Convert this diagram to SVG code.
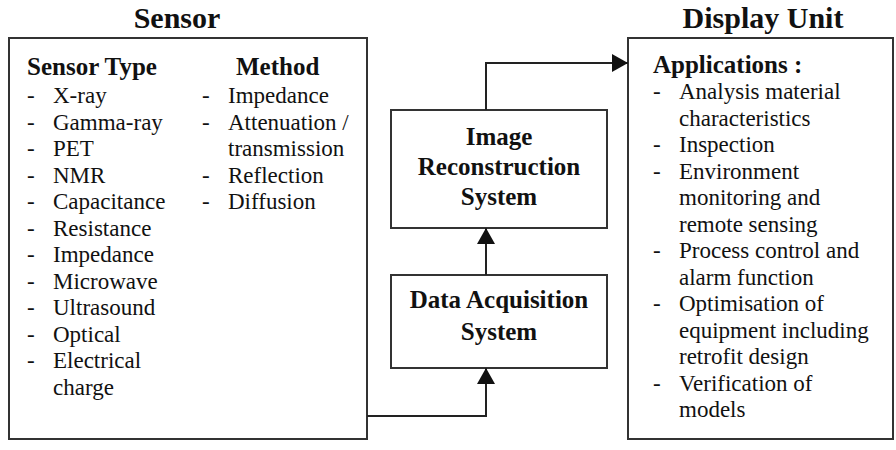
<svg xmlns="http://www.w3.org/2000/svg" width="896" height="450" viewBox="0 0 896 450">
<style>
.box{fill:#fff;stroke:#333;stroke-width:2}
.ttl{font-family:"Liberation Serif",serif;font-weight:bold;font-size:30px;fill:#111}
.hd{font-family:"Liberation Serif",serif;font-weight:bold;font-size:25px;fill:#111}
.tx{font-family:"Liberation Serif",serif;font-size:23px;fill:#111}
.cn{fill:none;stroke:#222;stroke-width:2}
</style>
<defs>
<marker id="ah" viewBox="0 0 16 18" refX="16" refY="9" markerWidth="16" markerHeight="18" markerUnits="userSpaceOnUse" orient="auto">
<path d="M0,0 L16,9 L0,18 Z" fill="#111"/>
</marker>
</defs>
<rect width="896" height="450" fill="#fff"/>
<g id="sensor">
<text class="ttl" x="177" y="27.5" text-anchor="middle">Sensor</text>
<rect class="box" x="9" y="38" width="358" height="401"/>
<text class="hd" x="27" y="75">Sensor Type</text>
<g class="tx">
<text x="27" y="103">-</text><text x="53" y="103">X-ray</text>
<text x="27" y="129.5">-</text><text x="53" y="129.5">Gamma-ray</text>
<text x="27" y="156">-</text><text x="53" y="156">PET</text>
<text x="27" y="182.5">-</text><text x="53" y="182.5">NMR</text>
<text x="27" y="209">-</text><text x="53" y="209">Capacitance</text>
<text x="27" y="235.5">-</text><text x="53" y="235.5">Resistance</text>
<text x="27" y="262">-</text><text x="53" y="262">Impedance</text>
<text x="27" y="288.5">-</text><text x="53" y="288.5">Microwave</text>
<text x="27" y="315">-</text><text x="53" y="315">Ultrasound</text>
<text x="27" y="341.5">-</text><text x="53" y="341.5">Optical</text>
<text x="27" y="368">-</text><text x="53" y="368">Electrical</text>
<text x="53" y="394.5">charge</text>
</g>
<text class="hd" x="236" y="75">Method</text>
<g class="tx">
<text x="202" y="103">-</text><text x="228" y="103">Impedance</text>
<text x="202" y="129.5">-</text><text x="228" y="129.5">Attenuation /</text>
<text x="228" y="156">transmission</text>
<text x="202" y="182.5">-</text><text x="228" y="182.5">Reflection</text>
<text x="202" y="209">-</text><text x="228" y="209">Diffusion</text>
</g>
</g>
<g id="image-reconstruction">
<rect class="box" x="391" y="110" width="216" height="118"/>
<text class="hd" x="499" y="145" text-anchor="middle">Image</text>
<text class="hd" x="499" y="175" text-anchor="middle">Reconstruction</text>
<text class="hd" x="499" y="205" text-anchor="middle">System</text>
</g>
<g id="data-acquisition">
<rect class="box" x="391" y="275" width="216" height="93"/>
<text class="hd" x="499" y="308" text-anchor="middle">Data Acquisition</text>
<text class="hd" x="499" y="340" text-anchor="middle">System</text>
</g>
<g id="display-unit">
<text class="ttl" x="763" y="27.5" text-anchor="middle">Display Unit</text>
<rect class="box" x="628" y="38" width="265" height="401"/>
<text class="hd" x="653" y="73">Applications :</text>
<g class="tx">
<text x="653" y="99">-</text><text x="679" y="99">Analysis material</text>
<text x="679" y="125.5">characteristics</text>
<text x="653" y="152">-</text><text x="679" y="152">Inspection</text>
<text x="653" y="178.5">-</text><text x="679" y="178.5">Environment</text>
<text x="679" y="205">monitoring and</text>
<text x="679" y="231.5">remote sensing</text>
<text x="653" y="258">-</text><text x="679" y="258">Process control and</text>
<text x="679" y="284.5">alarm function</text>
<text x="653" y="311">-</text><text x="679" y="311">Optimisation of</text>
<text x="679" y="337.5">equipment including</text>
<text x="679" y="364">retrofit design</text>
<text x="653" y="390.5">-</text><text x="679" y="390.5">Verification of</text>
<text x="679" y="417">models</text>
</g>
</g>
<g id="connectors">
<path class="cn" d="M367,416 H486 V368" marker-end="url(#ah)"/>
<path class="cn" d="M486,275 V228" marker-end="url(#ah)"/>
<path class="cn" d="M486,110 V63 H628" marker-end="url(#ah)"/>
</g>
</svg>
